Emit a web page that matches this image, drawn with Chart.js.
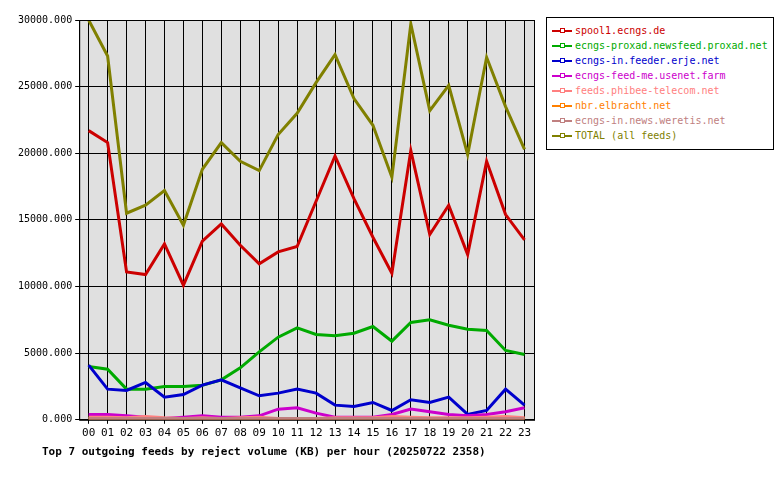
<!DOCTYPE html>
<html><head><meta charset="utf-8">
<script src="https://cdn.jsdelivr.net/npm/chart.js@4/dist/chart.umd.min.js"></script>
<style>
body{margin:0;background:#fff;width:780px;height:480px;overflow:hidden;font-family:"DejaVu Sans Mono",monospace}
#wrap{position:absolute;left:0;top:0;width:780px;height:480px}
#legend{position:absolute;left:546px;top:17px;width:226px;border:1px solid #000;background:#fff;padding:5px 0 6px 0;font-size:10px;white-space:nowrap}
.li{display:flex;align-items:center;height:15px;padding-left:5px}
.sw{position:relative;width:20px;height:2px;margin-right:3px;flex:none}
.sw i{position:absolute;left:8px;top:-2px;width:3px;height:3px;border:1px solid;background:#fff}
</style></head><body>
<div id="wrap"><canvas id="c" width="780" height="480"></canvas></div>
<div id="legend"></div>
<script>
const hours=["00","01","02","03","04","05","06","07","08","09","10","11","12","13","14","15","16","17","18","19","20","21","22","23"];
const names=["spool1.ecngs.de","ecngs-proxad.newsfeed.proxad.net","ecngs-in.feeder.erje.net","ecngs-feed-me.usenet.farm","feeds.phibee-telecom.net","nbr.elbracht.net","ecngs-in.news.weretis.net","TOTAL (all feeds)"];
const colors=["#cc0000","#00aa00","#0000cc","#cc00cc","#ff8080","#ff8000","#c08080","#808000"];
const titleText="Top 7 outgoing feeds by reject volume (KB) per hour (20250722 2358)";
const spool1=[21700,20800,11100,10900,13200,10100,13400,14700,13100,11700,12600,13000,16400,19800,16600,13700,11000,20200,13900,16100,12400,19400,15400,13500];
const proxad=[4000,3800,2300,2300,2500,2500,2600,3000,3900,5100,6200,6900,6400,6300,6500,7000,5900,7300,7500,7100,6800,6700,5200,4900];
const erje=[4100,2300,2200,2800,1700,1900,2600,3000,2400,1800,2000,2300,2000,1100,1000,1300,700,1500,1300,1700,400,700,2300,1100];
const usenetfarm=[400,400,300,200,100,200,300,200,200,300,800,900,500,200,200,200,400,800,600,400,300,400,600,900];
const phibee=[200,200,150,250,150,100,150,100,150,200,100,100,100,150,150,150,250,200,150,150,150,200,250,150];
const elbracht=[100,100,100,100,50,50,100,50,50,50,50,50,50,50,100,100,50,100,100,50,50,100,100,100];
const weretis=[100,100,100,100,100,100,100,100,100,100,100,100,100,100,100,100,100,100,100,100,100,100,100,100];
const total=[30000,27300,15500,16100,17200,14600,18800,20800,19400,18700,21400,23000,25300,27400,24100,22100,18200,29700,23200,25100,19900,27200,23500,20300];
const series=[spool1,proxad,erje,usenetfarm,phibee,elbracht,weretis,total];
const yTicks=[0,5000,10000,15000,20000,25000,30000];

const lg=document.getElementById('legend');
names.forEach((n,i)=>{const d=document.createElement('div');d.className='li';d.style.color=colors[i];
d.innerHTML='<span class="sw" style="background:'+colors[i]+'"><i style="border-color:'+colors[i]+'"></i></span>'+n;lg.appendChild(d);});

const bg={id:'bg',beforeDraw(ch){const a=ch.chartArea,c=ch.ctx;c.save();c.fillStyle='#e0e0e0';c.fillRect(a.left,a.top,a.right-a.left,a.bottom-a.top);c.restore();},
afterDraw(ch){const a=ch.chartArea,c=ch.ctx;c.save();c.strokeStyle='#000';c.lineWidth=1;c.strokeRect(a.left+0.5,a.top+0.5,a.right-a.left,a.bottom-a.top);
c.fillStyle='#000';c.font='bold 11px "DejaVu Sans Mono"';c.textBaseline='middle';c.fillText(titleText,42,452);c.restore();}};
new Chart(document.getElementById('c'),{type:'line',
data:{labels:hours,datasets:series.map((s,i)=>({label:names[i],data:s,borderColor:colors[i],backgroundColor:colors[i],borderWidth:3,pointRadius:0,tension:0,order:names.length-i}))},
options:{responsive:false,animation:false,layout:{padding:{left:15,right:246,top:20,bottom:37}},
plugins:{legend:{display:false},tooltip:{enabled:false},title:{display:false}},
scales:{x:{offset:true,grid:{offset:false,color:'#000',drawTicks:true,tickLength:4},border:{color:'#000'},ticks:{color:'#000',font:{family:'DejaVu Sans Mono',size:11},maxRotation:0,autoSkip:false}},
y:{min:0,max:30000,afterBuildTicks(ax){ax.ticks=yTicks.map(v=>({value:v}));},grid:{color:'#000',tickLength:4},border:{color:'#000'},ticks:{color:'#000',font:{family:'DejaVu Sans Mono',size:10},callback:v=>v.toFixed(3)}}}},
plugins:[bg]});
</script></body></html>
